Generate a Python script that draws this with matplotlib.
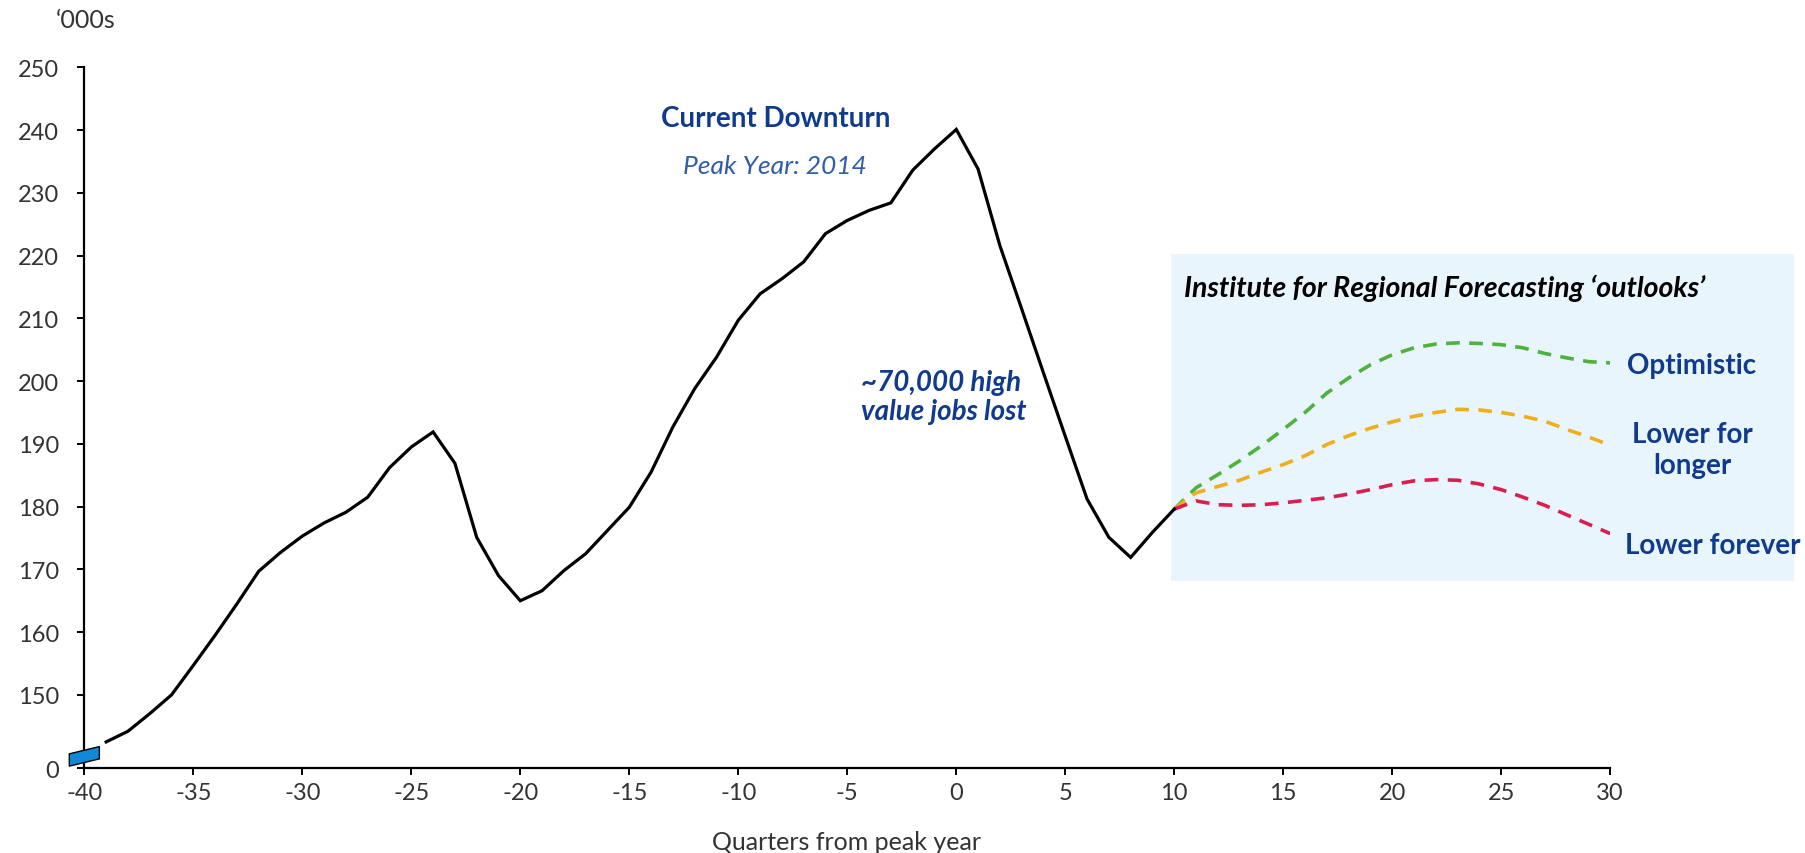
import matplotlib
matplotlib.use("Agg")
import matplotlib.pyplot as plt
from matplotlib.patches import Polygon, Rectangle

plt.rcParams["font.family"] = ["Lato", "DejaVu Sans"]

# Employment, '000s, by quarter relative to the peak year (2014)
quarters = list(range(-39, 11))
jobs = [142.5, 144.2, 147.0, 150.0, 154.7, 159.5, 164.5, 169.7, 172.7, 175.3,
        177.4, 179.1, 181.5, 186.2, 189.5, 191.9, 186.9, 175.1, 169.0, 165.0,
        166.6, 169.8, 172.5, 176.2, 179.9, 185.5, 192.7, 198.8, 203.8, 209.7,
        213.9, 216.3, 219.0, 223.5, 225.6, 227.2, 228.4, 233.6, 237.0, 240.1,
        233.8, 221.6, 211.5, 201.3, 191.2, 181.2, 175.1, 171.9, 175.9, 179.6]

# Institute for Regional Forecasting outlooks
outlook_q = list(range(10, 31))
optimistic = [179.6, 183.0, 185.1, 187.3, 189.7, 192.3, 195.0, 198.1, 200.5, 202.6,
              204.2, 205.3, 205.9, 206.1, 206.0, 205.8, 205.3, 204.4, 203.7, 203.1, 202.9]
lower_longer = [179.6, 182.2, 183.2, 184.2, 185.5, 186.7, 188.1, 189.9, 191.3, 192.5,
                193.5, 194.4, 195.0, 195.5, 195.4, 195.0, 194.4, 193.6, 192.3, 191.1, 189.8]
lower_forever = [179.6, 180.9, 180.3, 180.2, 180.3, 180.6, 181.0, 181.4, 182.0, 182.7,
                 183.5, 184.1, 184.3, 184.2, 183.6, 182.7, 181.5, 180.2, 178.7, 177.2, 175.7]

ytick_vals = [150, 160, 170, 180, 190, 200, 210, 220, 230, 240, 250]
xtick_vals = [-40, -35, -30, -25, -20, -15, -10, -5, 0, 5, 10, 15, 20, 25, 30]

Y_BREAK = 138.3   # where the "0" of the broken axis sits
DARK_BLUE = "#0f3a8e"
GREEN = "#4db33d"
AMBER = "#f0ae1c"
RED = "#d81f4f"

fig = plt.figure(figsize=(18.06, 8.54), dpi=100)
ax = fig.add_axes([0.0467, 0.0992, 0.8449, 0.8208])

# shaded outlook panel
ax.add_patch(Rectangle((9.85, 168.2), 28.6, 52.0, facecolor="#e9f5fc",
                       edgecolor="none", clip_on=False, zorder=0))

dash = (0, (3.8, 2.6))
ax.plot(outlook_q, optimistic, color=GREEN, lw=2.6, linestyle=dash, zorder=3)
ax.plot(outlook_q, lower_longer, color=AMBER, lw=2.6, linestyle=dash, zorder=3)
ax.plot(outlook_q, lower_forever, color=RED, lw=2.6, linestyle=dash, zorder=3)
ax.plot(quarters, jobs, color="black", lw=2.3, zorder=4, solid_joinstyle="miter")

# axis break marker
ax.add_patch(Polygon([(-40.69, 138.64), (-39.31, 139.8), (-39.31, 141.76), (-40.69, 140.6)],
                     closed=True, facecolor="#1288d8", edgecolor="black", lw=1.0,
                     clip_on=False, zorder=5))

ax.set_xlim(-40, 30)
ax.set_ylim(Y_BREAK, 250)
ax.set_xticks(xtick_vals)
ax.set_xticklabels([str(v) for v in xtick_vals])
ax.set_yticks([Y_BREAK] + ytick_vals)
ax.set_yticklabels(["0"] + [str(v) for v in ytick_vals])

for side in ("top", "right"):
    ax.spines[side].set_visible(False)
for side in ("left", "bottom"):
    ax.spines[side].set_linewidth(1.6)
ax.tick_params(axis="both", direction="out", length=5, width=1.4, labelsize=17,
               colors="black", labelcolor="#333333")
ax.tick_params(axis="y", pad=13)
ax.tick_params(axis="x", pad=5)

fig.text(0.0475, 0.976, "\u2018000s", ha="center", va="center", fontsize=18, color="#333333")
fig.text(0.4685, 0.014, "Quarters from peak year", ha="center", va="center",
         fontsize=18, color="#333333")

ax.text(-8.3, 242.0, "Current Downturn", ha="center", va="center", fontsize=20,
        fontweight="bold", color=DARK_BLUE)
ax.text(-8.3, 234.3, "Peak Year: 2014", ha="center", va="center", fontsize=19,
        fontstyle="italic", color="#2f5dab")
ax.text(-4.35, 197.6, "~70,000 high\nvalue jobs lost", ha="left", va="center",
        fontsize=20, fontweight="bold", fontstyle="italic", color=DARK_BLUE,
        linespacing=1.15)
ax.text(10.45, 215.0, "Institute for Regional Forecasting \u2018outlooks\u2019", ha="left",
        va="center", fontsize=20.5, fontweight="bold", fontstyle="italic", color="black")
ax.text(30.77, 202.6, "Optimistic", ha="left", va="center", fontsize=20,
        fontweight="bold", color=DARK_BLUE, clip_on=False)
ax.text(33.75, 189.1, "Lower for\nlonger", ha="center", va="center", fontsize=20,
        fontweight="bold", color=DARK_BLUE, linespacing=1.2, clip_on=False)
ax.text(30.68, 173.9, "Lower forever", ha="left", va="center", fontsize=20,
        fontweight="bold", color=DARK_BLUE, clip_on=False)

fig.savefig("out.png", dpi=100)
